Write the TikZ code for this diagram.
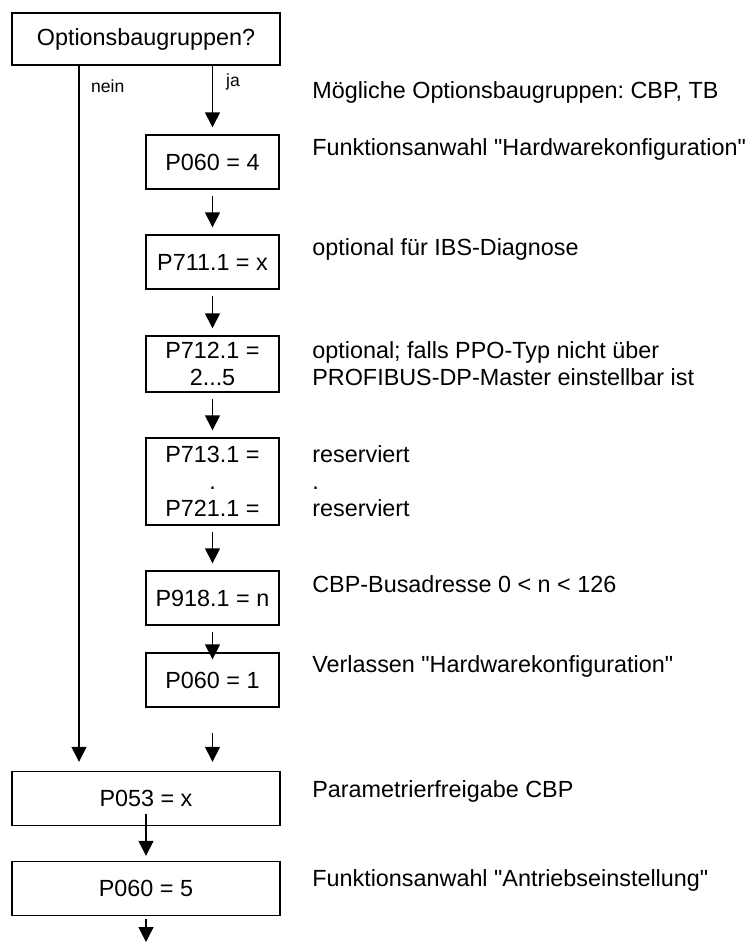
\documentclass[tikz,border=0pt]{standalone}
\usepackage{fontspec}
\setmainfont{Liberation Sans}[Ligatures=TeXOff]
\usepackage{tikz}
\usetikzlibrary{arrows.meta}
\frenchspacing

\begin{document}
\begin{tikzpicture}[x=0.02cm,y=-0.02cm,font=\fontsize{13.3}{15.4}\selectfont,
    box/.style={draw,line width=0.8pt,inner sep=0pt,align=center,minimum width=2.66cm,minimum height=1.08cm},
    widebox/.style={box,minimum width=5.36cm},
    note/.style={anchor=west,inner sep=0pt,align=left},
    arr/.style={line width=0.8pt,-{Triangle[length=0.3cm,width=0.3cm]}}]
  \useasboundingbox (0,0) rectangle (749,942);
  \node[widebox,minimum height=1.04cm] (frage) at (146,39) {Optionsbaugruppen?};
  \node[box] (p060a) at (212.5,162) {P060 = 4};
  \node[box] (p711) at (212.5,262) {P711.1 = x};
  \node[box,minimum height=1.12cm] (p712) at (212.5,364) {P712.1 =\\2...5};
  \node[box,minimum height=1.74cm] (p713) at (212.5,481.5) {P713.1 =\\.\\P721.1 =};
  \node[box] (p918) at (212.5,598) {P918.1 = n};
  \node[box] (p060b) at (212.5,680) {P060 = 1};
  \node[widebox] (p053) at (146,798.5) {P053 = x};
  \node[widebox] (p060c) at (146,888.5) {P060 = 5};
  \coordinate (neinx) at (79,0);
  \coordinate (ende) at (146,942);

  \draw[arr] (frage.south -| neinx) -- (p053.north -| neinx) [shorten >=0.18cm];
  \draw[arr,shorten >=0.14cm] (frage.south -| p060a) -- (p060a.north);
  \node[anchor=west,font=\fontsize{10}{12}\selectfont] (nein) at (85,86) {nein};
  \node[anchor=west,font=\fontsize{10}{12}\selectfont] (ja) at (220,82) {ja};
  \draw[arr,shorten <=0.12cm,shorten >=0.14cm] (p060a) -- (p711);
  \draw[arr,shorten <=0.12cm,shorten >=0.14cm] (p711) -- (p712);
  \draw[arr,shorten <=0.12cm,shorten >=0.14cm] (p712) -- (p713);
  \draw[arr,shorten <=0.12cm,shorten >=0.14cm] (p713) -- (p918);
  \draw[arr,shorten <=0.12cm,shorten >=-0.14cm] (p918) -- (p060b);
  \draw[arr,shorten <=0.5cm,shorten >=0.18cm] (p060b) -- (p060b |- p053.north);
  \draw[arr,shorten <=-0.24cm,shorten >=0.1cm] (p053) -- (p060c);
  \draw[arr,shorten <=0.06cm] (p060c) -- (ende);

  \node[note] (n1) at (312,92) {Mögliche Optionsbaugruppen: CBP, TB};
  \node[note] (n2) at (312,149) {Funktionsanwahl "Hardwarekonfiguration"};
  \node[note] (n3) at (312,249) {optional für IBS-Diagnose};
  \node[note] (n4) at (312,363.5) {optional; falls PPO-Typ nicht über\\PROFIBUS-DP-Master einstellbar ist};
  \node[note] (n5) at (312,481) {reserviert\\.\\reserviert};
  \node[note] (n6) at (312,584) {CBP-Busadresse 0 < n < 126};
  \node[note] (n7) at (312,666) {Verlassen "Hardwarekonfiguration"};
  \node[note] (n8) at (312,791) {Parametrierfreigabe CBP};
  \node[note] (n9) at (312,880) {Funktionsanwahl "Antriebseinstellung"};
\end{tikzpicture}
\end{document}
